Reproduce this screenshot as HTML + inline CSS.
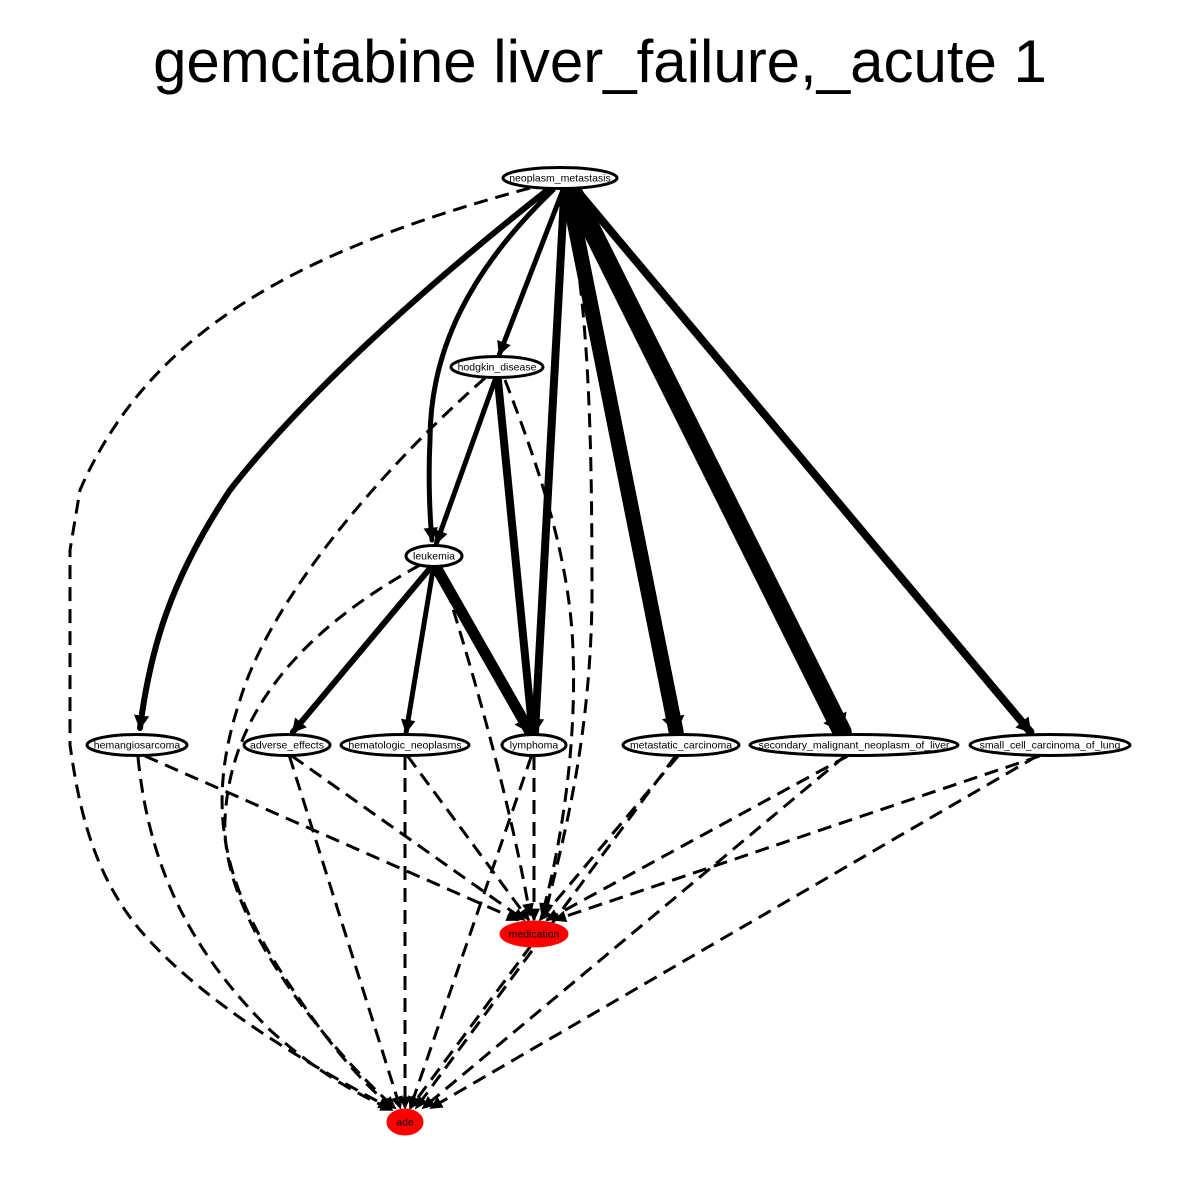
<!DOCTYPE html>
<html><head><meta charset="utf-8"><style>
html,body{margin:0;padding:0;background:#fff;width:1200px;height:1200px;overflow:hidden}
svg{display:block}
text{font-family:"Liberation Sans",sans-serif}
</style></head><body>
<svg id="g" width="1200" height="1200" viewBox="0 0 1200 1200">
<text x="600" y="82" font-size="60" text-anchor="middle">gemcitabine liver_failure,_acute 1</text>
<g id="edges"></g>
<g id="nodes"></g>
</svg>
<script>
const nodeNames=["neoplasm_metastasis","hodgkin_disease","leukemia","hemangiosarcoma","adverse_effects","hematologic_neoplasms","lymphoma","metastatic_carcinoma","secondary_malignant_neoplasm_of_liver","small_cell_carcinoma_of_lung","medication","ade"];
const nodeX=[560,497,434,137,287,405,534,681,854,1050,534,405];
const nodeY=[178,367,556,745,745,745,745,745,745,745,934,1122];
const nodeRx=[57,46,28,50,43,64,32,58,104,80,33,17];
const nodeRed=[0,0,0,0,0,0,0,0,0,0,1,1];
// solid edges: source, target, weight (line width)
const solidFrom=[0,0,0,0,0,0,0,1,1,2,2,2];
const solidTo=[3,2,1,6,7,8,9,2,6,4,5,6];
const solidWeight=[6,5,5,8,15,19,8,5,8,6,5,11];
// dashed edges
const dashFrom=[0,0,1,1,2,2,3,4,5,6,7,8,9,3,4,5,6,7,8,9,10];
const dashTo=[11,10,11,10,11,10,10,10,10,10,10,10,10,11,11,11,11,11,11,11,11];
const NS="http://www.w3.org/2000/svg";
const eg=document.getElementById('edges'), ng=document.getElementById('nodes');
const curves={
 "0-3":"M550,188 C420,290 300,400 230,490 C170,580 150,650 140,728",
 "0-2":"M553,190 C470,270 430,350 430,440 C428,480 430,520 432,540",
 "0-11":"M530,188 C300,250 150,330 80,490 L70,550 L70,745 C78,800 90,870 140,930 C200,1000 300,1060 390,1108",
 "0-10":"M565,195 C590,300 592,450 592,600 C590,750 560,850 545,915",
 "1-11":"M485,378 C380,470 270,600 240,700 C200,820 230,900 300,1000 C340,1060 380,1100 395,1108",
 "1-10":"M505,380 C540,470 570,560 573,650 C577,750 560,850 542,915",
 "2-11":"M420,565 C320,620 230,700 225,820 C220,920 330,1050 395,1108",
 "2-10":"M440,568 C470,660 510,800 530,915",
 "3-11":"M138,757 C150,880 200,960 270,1030 C320,1075 360,1095 392,1110"
};
function endPt(i,t){
 return [nodeX[t]+(nodeX[i]-nodeX[t])*0.04, nodeY[t]-(nodeRed[t]?14:13)];
}
function arrow(x1,y1,x2,y2,w){
 const a=Math.atan2(y2-y1,x2-x1),L=10+w*0.3,H=4+w*0.4;
 const p=document.createElementNS(NS,'path');
 const bx=x2-L*Math.cos(a),by=y2-L*Math.sin(a);
 p.setAttribute('d',`M${x2},${y2} L${bx+H*Math.sin(a)},${by-H*Math.cos(a)} L${bx-H*Math.sin(a)},${by+H*Math.cos(a)} Z`);
 p.setAttribute('fill','#000');p.setAttribute('stroke','#000');p.setAttribute('stroke-width',1.5);
 
 
 eg.appendChild(p);
}
function drawEdge(f,t,w,dashed){
 const key=f+"-"+t;
 const p=document.createElementNS(NS,'path');
 let d,sx,sy,ex,ey;
 if(curves[key]){d=curves[key];const n=d.match(/-?\d+(\.\d+)?/g).map(Number);ex=n[n.length-2];ey=n[n.length-1];sx=n[n.length-4];sy=n[n.length-3];}
 else{
  sx=nodeX[f]+(f===0?5:0)+(nodeX[t]-nodeX[f])*0.02; sy=nodeY[f]+(f===0?10:11);
  [ex,ey]=endPt(f,t); d=`M${sx},${sy} L${ex},${ey}`;
 }
 p.setAttribute('d',d);p.setAttribute('fill','none');p.setAttribute('stroke','#000');
 p.setAttribute('stroke-width',w);p.setAttribute('stroke-linecap',dashed?'butt':'round');
 if(dashed)p.setAttribute('stroke-dasharray','14,8');
 
 
 eg.appendChild(p);
 arrow(sx,sy,ex,ey,dashed?2:w);
}
for(let i=0;i<dashFrom.length;i++)drawEdge(dashFrom[i],dashTo[i],3,true);
for(let i=0;i<solidFrom.length;i++)drawEdge(solidFrom[i],solidTo[i],solidWeight[i],false);
for(let i=0;i<nodeNames.length;i++){
 const g=document.createElementNS(NS,'g');
 
 
 const e=document.createElementNS(NS,'ellipse');
 e.setAttribute('cx',nodeX[i]);e.setAttribute('cy',nodeY[i]);e.setAttribute('rx',nodeRx[i]);
 e.setAttribute('ry',nodeRed[i]?12:10.5);
 e.setAttribute('fill',nodeRed[i]?'#ff0000':'#fff');
 e.setAttribute('stroke',nodeRed[i]?'#ff0000':'#000');e.setAttribute('stroke-width',3);
 
 
 const tx=document.createElementNS(NS,'text');
 tx.setAttribute('x',nodeX[i]);tx.setAttribute('y',nodeY[i]+3.5);
 tx.setAttribute('font-size',10.5);tx.setAttribute('text-anchor','middle');
 tx.textContent=nodeNames[i];
 
 
 g.appendChild(e);g.appendChild(tx);ng.appendChild(g);
}
</script>
</body></html>
